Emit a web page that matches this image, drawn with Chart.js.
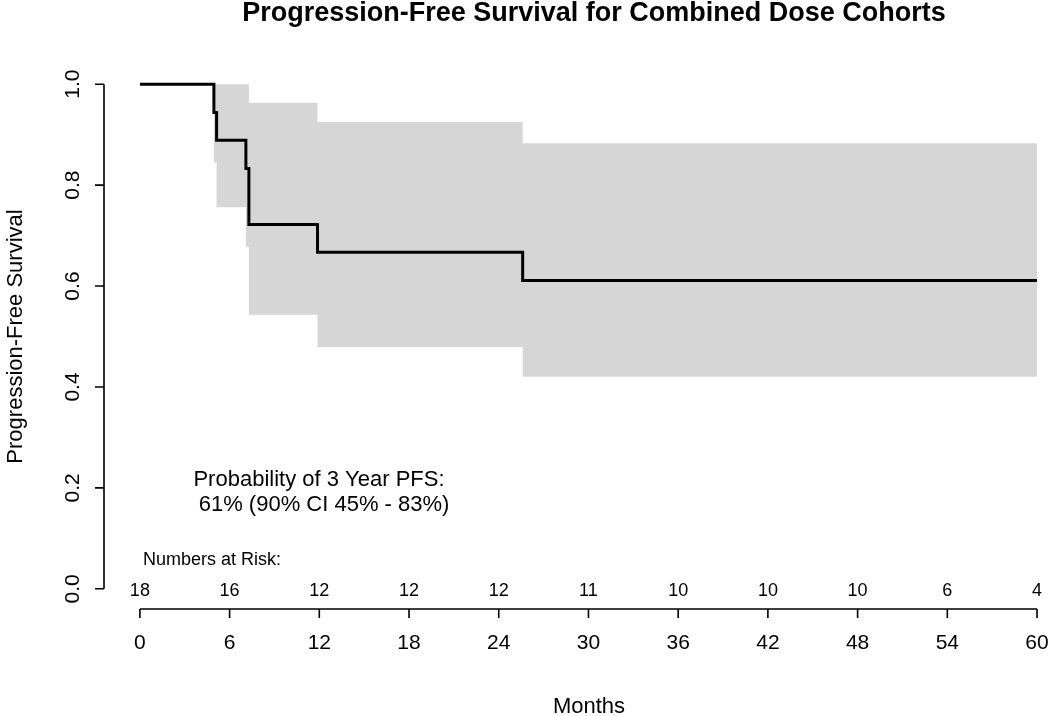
<!DOCTYPE html>
<html>
<head>
<meta charset="utf-8">
<script src="https://cdn.jsdelivr.net/npm/chart.js@4/dist/chart.umd.min.js"></script>
<style>
  body { margin: 0; background: #fff; }
</style>
</head>
<body>
<canvas id="km" width="1050" height="716"></canvas>
<script>
// Kaplan-Meier estimate
const months = [0, 4.95, 5.13, 7.09, 7.29, 11.88, 25.6, 60];
const pfs = [1, 0.944, 0.889, 0.833, 0.722, 0.667, 0.611, 0.611];
const ciUpper = [1, 1, 1, 1, 0.963, 0.925, 0.883, 0.883];
const ciLower = [1, 0.845, 0.756, 0.678, 0.543, 0.479, 0.420, 0.420];

const xTicks = [0, 6, 12, 18, 24, 30, 36, 42, 48, 54, 60];
const yTicks = [0, 0.2, 0.4, 0.6, 0.8, 1.0];
const yTickLabels = ['0.0', '0.2', '0.4', '0.6', '0.8', '1.0'];
const riskCounts = [18, 16, 12, 12, 12, 11, 10, 10, 10, 6, 4];

const FONT = '"Liberation Sans", Arial, sans-serif';

function pts(ys) {
    return months.map((m, i) => ({ x: m, y: ys[i] }));
}

// draws R-style axes and the text around the plot
const rAxes = {
    id: 'rAxes',
    afterDraw(chart) {
        const ctx = chart.ctx;
        const xs = chart.scales.x, ys = chart.scales.y, area = chart.chartArea;
        ctx.save();
        ctx.strokeStyle = '#000';
        ctx.fillStyle = '#000';
        ctx.lineWidth = 1.6;

        // x axis
        const yb = area.bottom;
        ctx.beginPath();
        ctx.moveTo(xs.getPixelForValue(xTicks[0]), yb);
        ctx.lineTo(xs.getPixelForValue(xTicks[xTicks.length - 1]), yb);
        xTicks.forEach(t => {
            const px = xs.getPixelForValue(t);
            ctx.moveTo(px, yb);
            ctx.lineTo(px, yb + 9);
        });
        // y axis
        const xl = area.left;
        ctx.moveTo(xl, ys.getPixelForValue(yTicks[0]));
        ctx.lineTo(xl, ys.getPixelForValue(yTicks[yTicks.length - 1]));
        yTicks.forEach(v => {
            const py = ys.getPixelForValue(v);
            ctx.moveTo(xl, py);
            ctx.lineTo(xl - 9, py);
        });
        ctx.stroke();

        ctx.textAlign = 'center';
        ctx.textBaseline = 'middle';
        ctx.font = '21px ' + FONT;
        xTicks.forEach(t => ctx.fillText(String(t), xs.getPixelForValue(t), yb + 34));

        yTicks.forEach((v, i) => {
            ctx.save();
            ctx.translate(xl - 31, ys.getPixelForValue(v));
            ctx.rotate(-Math.PI / 2);
            ctx.fillText(yTickLabels[i], 0, 0);
            ctx.restore();
        });

        // numbers at risk
        ctx.font = '18px ' + FONT;
        const y0 = ys.getPixelForValue(0);
        xTicks.forEach((t, i) => ctx.fillText(String(riskCounts[i]), xs.getPixelForValue(t), y0 + 2));
        ctx.textAlign = 'left';
        ctx.fillText('Numbers at Risk:', xs.getPixelForValue(0) + 3, y0 - 29);

        // annotation
        ctx.textAlign = 'center';
        ctx.font = '22px ' + FONT;
        ctx.fillText('Probability of 3 Year PFS:', 319, ys.getPixelForValue(0.216));
        ctx.fillText(' 61% (90% CI 45% - 83%)', 321, ys.getPixelForValue(0.166));

        // axis titles
        ctx.font = '22px ' + FONT;
        ctx.fillText('Months', 589, 707);
        ctx.save();
        ctx.translate(16, (ys.getPixelForValue(0) + ys.getPixelForValue(1)) / 2);
        ctx.rotate(-Math.PI / 2);
        ctx.fillText('Progression-Free Survival', 0, 0);
        ctx.restore();

        // main title
        ctx.font = 'bold 27px ' + FONT;
        ctx.fillText('Progression-Free Survival for Combined Dose Cohorts', 594, 14);
        ctx.restore();
    }
};

new Chart(document.getElementById('km'), {
    type: 'line',
    data: {
        datasets: [
            {
                label: 'PFS',
                data: pts(pfs),
                stepped: 'before',
                borderColor: '#000',
                borderWidth: 3,
                pointRadius: 0,
                fill: false
            },
            {
                label: 'upper',
                data: pts(ciUpper),
                stepped: 'before',
                borderColor: 'rgba(0,0,0,0)',
                borderWidth: 0,
                pointRadius: 0,
                backgroundColor: '#d6d6d6',
                fill: '+1'
            },
            {
                label: 'lower',
                data: pts(ciLower),
                stepped: 'before',
                borderColor: 'rgba(0,0,0,0)',
                borderWidth: 0,
                pointRadius: 0,
                fill: false
            }
        ]
    },
    options: {
        responsive: false,
        animation: false,
        layout: {
            padding: { left: 104, right: 4, top: 64, bottom: 107 }
        },
        scales: {
            x: { type: 'linear', min: -2.4, max: 60.6, display: false },
            y: { type: 'linear', min: -0.04, max: 1.04, display: false }
        },
        plugins: {
            legend: { display: false },
            tooltip: { enabled: false }
        }
    },
    plugins: [rAxes]
});
</script>
</body>
</html>
